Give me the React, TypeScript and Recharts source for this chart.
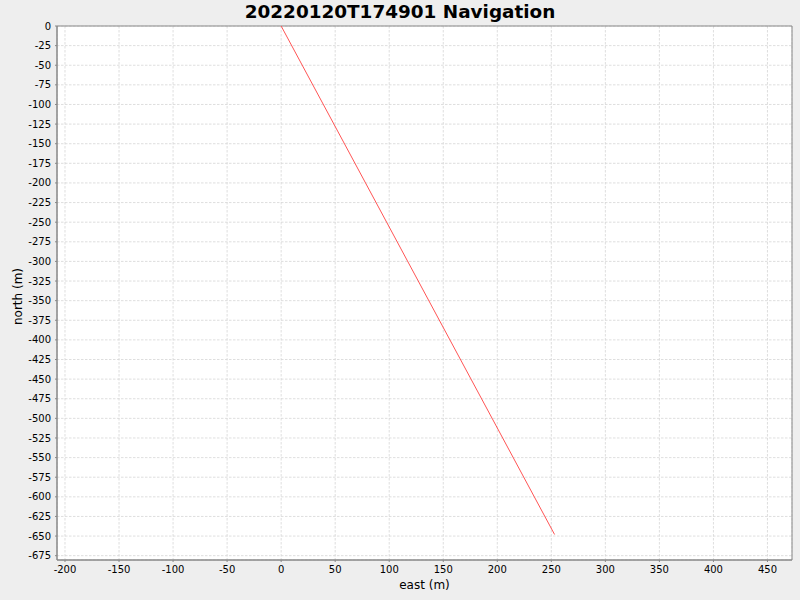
import { LineChart, Line, XAxis, YAxis, CartesianGrid, ReferenceArea, Label } from 'recharts';

// track points (metres)
const eastValues = [0, 253];
const northValues = [0, -648];

const eastTicks = [-200, -150, -100, -50, 0, 50, 100, 150, 200, 250, 300, 350, 400, 450];
const northTicks = [
  0, -25, -50, -75, -100, -125, -150, -175, -200, -225, -250, -275, -300, -325,
  -350, -375, -400, -425, -450, -475, -500, -525, -550, -575, -600, -625, -650, -675,
];

const eastRange = [-207.4, 472.7];
const northRange = [-680.5, 0];

const track = eastValues.map((east, i) => ({ east, north: northValues[i] }));

const axisGray = '#888888';
const tickStyle = { fontSize: 10, fill: '#000', fontFamily: 'DejaVu Sans' };

export default function App() {
  return (
    <div
      style={{
        position: 'fixed',
        top: 0,
        left: 0,
        width: 800,
        height: 600,
        background: '#eeeeee',
        fontFamily: 'DejaVu Sans',
      }}
    >
      <div
        style={{
          position: 'absolute',
          top: 0,
          left: 0,
          width: 800,
          textAlign: 'center',
          fontSize: 18.4,
          lineHeight: '24px',
          fontWeight: 'bold',
          color: '#000',
        }}
      >
        20220120T174901 Navigation
      </div>
      <LineChart
        width={800}
        height={600}
        data={track}
        margin={{ top: 26, right: 8, bottom: 0, left: 0 }}
        style={{ position: 'absolute', top: 0, left: 0 }}
      >
        <CartesianGrid stroke="#d6d6d6" strokeWidth={0.8} strokeDasharray="2.5 1.5" fill="#ffffff" />
        <XAxis
          type="number"
          dataKey="east"
          domain={eastRange}
          ticks={eastTicks}
          allowDataOverflow
          interval={0}
          height={40}
          tick={tickStyle}
          tickSize={2}
          tickMargin={4}
          stroke={axisGray}
        >
          <Label
            content={() => (
              <text x={424.5} y={589} textAnchor="middle" fontSize={12} fontFamily="DejaVu Sans" fill="#000">
                east (m)
              </text>
            )}
          />
        </XAxis>
        <YAxis
          type="number"
          dataKey="north"
          domain={northRange}
          ticks={northTicks}
          allowDataOverflow
          interval={0}
          width={57}
          tick={tickStyle}
          tickSize={2}
          tickMargin={4}
          stroke={axisGray}
        >
          <Label
            content={() => (
              <text
                x={22}
                y={296.5}
                textAnchor="middle"
                fontSize={12}
                fontFamily="DejaVu Sans"
                fill="#000"
                transform="rotate(-90 22 296.5)"
              >
                north (m)
              </text>
            )}
          />
        </YAxis>
        <ReferenceArea
          x1={eastRange[0]}
          x2={eastRange[1]}
          y1={northRange[0]}
          y2={northRange[1]}
          fill="none"
          stroke={axisGray}
          strokeWidth={1}
          ifOverflow="visible"
        />
        <Line
          type="linear"
          dataKey="north"
          stroke="#ff5555"
          strokeWidth={1}
          dot={false}
          isAnimationActive={false}
        />
      </LineChart>
    </div>
  );
}
